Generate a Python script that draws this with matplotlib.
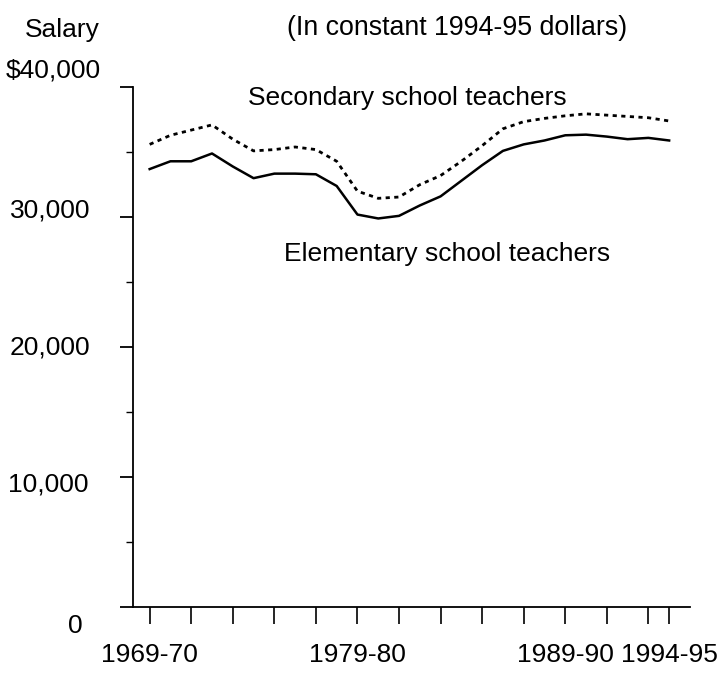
"""
Teacher salaries in constant 1994-95 dollars
"""
import matplotlib
matplotlib.use("Agg")
import matplotlib.pyplot as plt
import matplotlib.transforms as mtransforms

plt.rcParams['font.family'] = ['Liberation Sans', 'DejaVu Sans']

# school years, start year of each (1969 = 1969-70)
years = list(range(1969, 1995))

elementary = [33700, 34300, 34300, 34900, 33900, 33000, 33350, 33350, 33300, 32400,
              30200, 29900, 30100, 30900, 31600, 32800, 34000, 35100, 35600, 35900,
              36300, 36350, 36200, 36000, 36100, 35900]
secondary = [35600, 36300, 36700, 37100, 36000, 35100, 35200, 35400, 35200, 34300,
             32000, 31450, 31550, 32500, 33200, 34300, 35500, 36800, 37350, 37600,
             37800, 37950, 37850, 37750, 37650, 37400]

x_ticks = list(range(1969, 1994, 2)) + [1994]
x_labels = {1969: "1969-70", 1979: "1979-80", 1989: "1989-90", 1994: "1994-95"}
y_major = [0, 10000, 20000, 30000, 40000]
y_labels = ["0", "10,000", "20,000", "30,000", "$40,000"]
y_minor = [5000, 15000, 25000, 35000]

FS = 19

fig = plt.figure(figsize=(7.27, 6.76), dpi=100)
ax = fig.add_axes([0.183, 0.102, 0.766, 0.769])

ax.plot(years, elementary, color='black', lw=1.8, solid_joinstyle='round')
ax.plot(years, secondary, color='black', lw=2.0, linestyle=(0, (1.5, 1.6)))

ax.set_xlim(1968.2, 1995.0)
ax.set_ylim(0, 40000)

for side in ('top', 'right'):
    ax.spines[side].set_visible(False)
ax.spines['left'].set_linewidth(1.3)
ax.spines['bottom'].set_linewidth(1.3)

ax.set_xticks(x_ticks)
ax.set_xticklabels([x_labels.get(y, "") for y in x_ticks], fontsize=FS)
ax.tick_params(axis='x', direction='out', length=12, width=1.2, pad=14)

ax.set_yticks(y_major)
ax.set_yticklabels(y_labels, fontsize=FS)
ax.set_yticks(y_minor, minor=True)
ax.tick_params(axis='y', which='major', direction='out', length=9.5, width=1.3, pad=21)
ax.tick_params(axis='y', which='minor', direction='out', length=5, width=1.0)

# the scanned labels don't sit exactly on their ticks
label_shift = {"$40,000": (10, 19), "30,000": (0, 9), "20,000": (0, 2),
               "10,000": (-2, -5), "0": (-8, -16)}
for lab in ax.get_yticklabels():
    dx, dy = label_shift.get(lab.get_text(), (0, 0))
    lab.set_transform(lab.get_transform() +
                      mtransforms.ScaledTranslation(dx / 100, dy / 100, fig.dpi_scale_trans))

ax.text(1981.4, 39200, "Secondary school teachers", fontsize=FS, ha='center', va='center')
ax.text(1983.3, 27200, "Elementary school teachers", fontsize=FS, ha='center', va='center')

fig.text(62 / 727, 1 - 30 / 676, "Salary", fontsize=FS, ha='center', va='center')
fig.text(457 / 727, 1 - 28 / 676, "(In constant 1994-95 dollars)", fontsize=19.3,
         ha='center', va='center')

fig.savefig("out.png", dpi=100)
